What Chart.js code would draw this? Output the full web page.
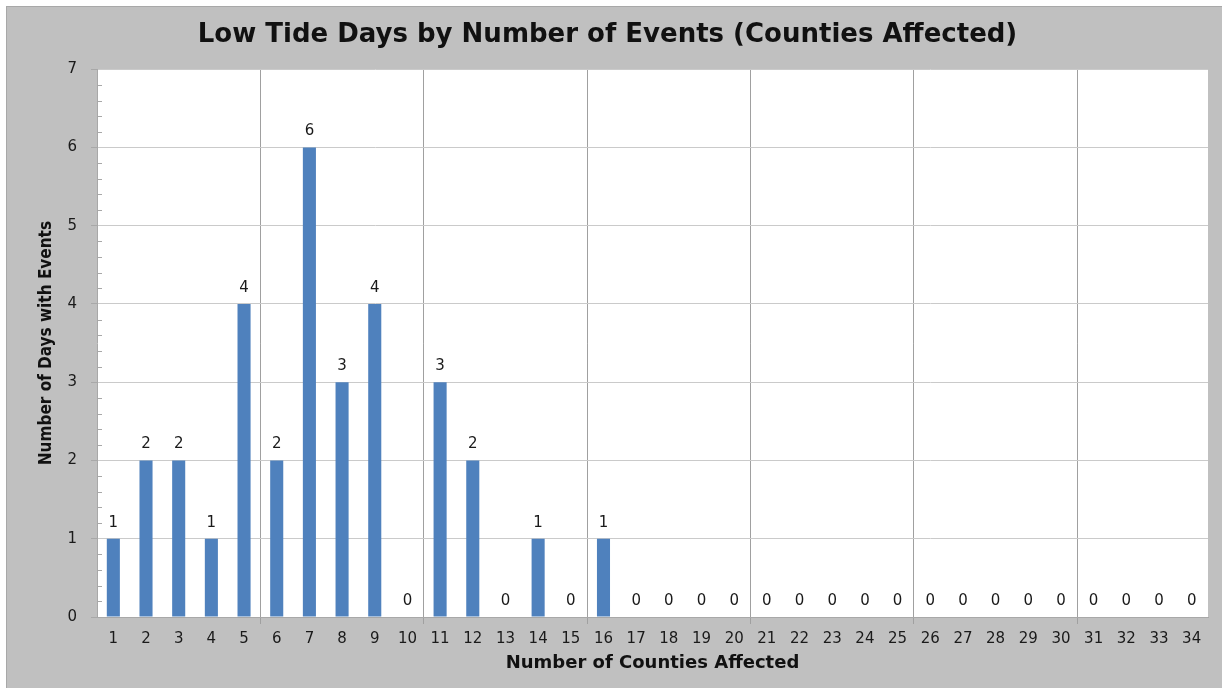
<!DOCTYPE html>
<html lang="en">
<head>
  <meta charset="UTF-8" />
  <title>Low Tide Days by Number of Events</title>
  <script src="https://cdn.jsdelivr.net/npm/chart.js"></script>
  <style>
    html, body { margin: 0; padding: 0; background: #fff; }
    #wrap {
      position: absolute; left: 6px; top: 6px;
      width: 1216px; height: 682px;
      background: #c0c0c0;
      border-top: 1px solid #a8a8a8; border-left: 1px solid #a8a8a8;
      box-sizing: border-box;
    }
  </style>
</head>
<body>
  <div id="wrap"><canvas id="tideChart"></canvas></div>
  <script>
    // counties affected 1..34
    const counties = ["1","2","3","4","5","6","7","8","9","10","11","12","13","14","15","16","17",
      "18","19","20","21","22","23","24","25","26","27","28","29","30","31","32","33","34"];
    const days = [1, 2, 2, 1, 4, 2, 6, 3, 4, 0, 3, 2, 0, 1, 0, 1, 0,
      0, 0, 0, 0, 0, 0, 0, 0, 0, 0, 0, 0, 0, 0, 0, 0, 0];
    const yTicks = [0, 1, 2, 3, 4, 5, 6, 7];

    const FONT = "'DejaVu Sans', Verdana, sans-serif";

    // white plot area + minor ticks on the inside of the y axis
    const plotDecor = {
      id: "plotDecor",
      beforeDraw(chart) {
        const { ctx, chartArea: a } = chart;
        ctx.save();
        ctx.fillStyle = "#ffffff";
        ctx.fillRect(a.left, a.top, a.right - a.left, a.bottom - a.top);
        ctx.restore();
      },
      afterDraw(chart) {
        const { ctx, chartArea: a } = chart;
        const y = chart.scales.y;
        ctx.save();
        ctx.strokeStyle = "#a8a8a8";
        ctx.lineWidth = 1;
        for (let v = 0; v < yTicks[yTicks.length - 1]; v++) {
          for (let k = 1; k < 5; k++) {
            const py = Math.round(y.getPixelForValue(v + k * 0.2)) + 0.5;
            ctx.beginPath();
            ctx.moveTo(a.left, py);
            ctx.lineTo(a.left + 5, py);
            ctx.stroke();
          }
        }
        ctx.restore();
      }
    };

    // value labels above each bar
    const valueLabels = {
      id: "valueLabels",
      afterDatasetsDraw(chart) {
        const { ctx } = chart;
        const meta = chart.getDatasetMeta(0);
        ctx.save();
        ctx.font = "15px " + FONT;
        ctx.fillStyle = "#1a1a1a";
        ctx.textAlign = "center";
        ctx.textBaseline = "middle";
        meta.data.forEach((bar, i) => {
          ctx.fillText(String(days[i]), bar.x, bar.y - 16);
        });
        ctx.restore();
      }
    };

    new Chart(document.getElementById("tideChart"), {
      type: "bar",
      data: {
        labels: counties,
        datasets: [{
          data: days,
          backgroundColor: "#4f81bd",
          borderWidth: 0,
          barPercentage: 0.4,
          categoryPercentage: 1.0
        }]
      },
      options: {
        responsive: true,
        maintainAspectRatio: false,
        animation: false,
        layout: { padding: { left: 0, right: 14, top: 0, bottom: 0 } },
        plugins: {
          legend: { display: false },
          tooltip: { enabled: false },
          title: {
            display: true,
            text: "Low Tide Days by Number of Events (Counties Affected)",
            color: "#111",
            font: { family: FONT, size: 26, weight: "bold" },
            padding: { top: 13, bottom: 18 }
          }
        },
        scales: {
          x: {
            grid: {
              offset: true,
              color: (c) => (c.index > 0 && c.index % 5 === 0 ? "#a0a0a0" : "rgba(0,0,0,0)"),
              tickLength: 7
            },
            border: { display: true, color: "#a8a8a8" },
            ticks: {
              color: "#1a1a1a",
              font: { family: FONT, size: 15 },
              padding: 6,
              maxRotation: 0,
              autoSkip: false
            },
            title: {
              display: true,
              text: "Number of Counties Affected",
              color: "#111",
              font: { family: FONT, size: 18, weight: "bold" },
              padding: { top: 0, bottom: 14 }
            },
            afterFit(scale) { scale.height = 71; }
          },
          y: {
            min: 0,
            max: 7,
            ticks: {
              stepSize: 1,
              color: "#1a1a1a",
              font: { family: FONT, size: 15 },
              padding: 14
            },
            grid: { color: "#cacaca", tickColor: "#a8a8a8", tickLength: 6 },
            border: { display: true, color: "#a8a8a8" },
            title: {
              display: true,
              text: "Number of Days with Events",
              color: "#111",
              font: { family: "'DejaVu Sans Condensed', 'Liberation Sans Narrow', sans-serif", size: 17, weight: "bold" },
              padding: { top: 29, bottom: 0 }
            },
            afterFit(scale) { scale.width = 90; }
          }
        }
      },
      plugins: [plotDecor, valueLabels]
    });
  </script>
</body>
</html>
